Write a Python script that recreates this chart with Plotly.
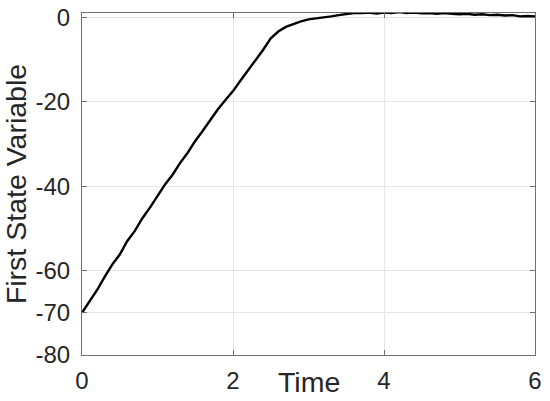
import plotly.graph_objects as go

# Data
time = [0.0, 0.1, 0.2, 0.3, 0.4, 0.5, 0.6, 0.7, 0.8, 0.9,
        1.0, 1.1, 1.2, 1.3, 1.4, 1.5, 1.6, 1.7, 1.8, 1.9,
        2.0, 2.1, 2.2, 2.3, 2.4, 2.5, 2.6, 2.7, 2.8, 2.9,
        3.0, 3.1, 3.2, 3.3, 3.4, 3.5, 3.6, 3.7, 3.8, 3.9,
        4.0, 4.1, 4.2, 4.3, 4.4, 4.5, 4.6, 4.7, 4.8, 4.9,
        5.0, 5.1, 5.2, 5.3, 5.4, 5.5, 5.6, 5.7, 5.8, 5.9, 6.0]
state1 = [-70.0, -67.3, -64.6, -61.5, -58.6, -56.2, -53.0, -50.6, -47.6, -45.1,
          -42.3, -39.6, -37.3, -34.5, -32.1, -29.3, -26.9, -24.2, -21.8, -19.6,
          -17.5, -15.0, -12.6, -10.2, -7.7, -5.0, -3.4, -2.3, -1.6, -1.0,
          -0.5, -0.3, 0.0, 0.2, 0.5, 0.8, 1.0, 1.0, 1.1, 0.9,
          1.1, 1.0, 1.2, 1.0, 1.1, 0.9, 1.0, 0.8, 1.0, 0.8,
          0.7, 0.8, 0.6, 0.7, 0.5, 0.6, 0.4, 0.5, 0.2, 0.3, 0.2]

x_ticks = [0, 2, 4, 6]
y_ticks = [-80, -70, -60, -40, -20, 0]
x_labels = ['0', '2', '4', '6']
y_labels = ['-80', '-70', '-60', '-40', '-20', '0']

FONT = 'Liberation Sans, Arial, sans-serif'
TXT = '#262626'
AX = '#707070'

fig = go.Figure()
fig.add_trace(go.Scatter(x=time, y=state1, mode='lines',
                         line=dict(color='black', width=2.4),
                         showlegend=False))

axis_style = dict(showline=True, linecolor=AX, linewidth=1, mirror='ticks',
                  ticks='inside', ticklen=5, tickcolor=AX, automargin=False,
                  ticklabeloverflow='allow',
                  showgrid=True, gridcolor='#e5e5e5', gridwidth=1,
                  zeroline=False, tickfont=dict(size=24, color=TXT, family=FONT))

fig.update_xaxes(range=[0, 6], tickvals=x_ticks, ticktext=x_labels,
                 ticklabelstandoff=4, **axis_style)
fig.update_yaxes(range=[-80, 1], tickvals=y_ticks, ticktext=y_labels,
                 ticklabelstandoff=6,
                 title=dict(text='First State Variable', standoff=9,
                            font=dict(size=28.5, color=TXT, family=FONT)),
                 **axis_style)

fig.add_annotation(text='Time', x=3, y=0, xref='x', yref='paper',
                   xanchor='center', yanchor='middle', yshift=-27, showarrow=False,
                   font=dict(size=28.5, color=TXT, family=FONT))

fig.update_layout(width=550, height=401,
                  margin=dict(l=82, r=15, t=13, b=46),
                  plot_bgcolor='white', paper_bgcolor='white',
                  font=dict(family=FONT, color=TXT))

# drop the default 8px body margin so the figure sits at the window corner
fig.write_html("out.html", config={'displayModeBar': False},
               post_script="document.body.style.margin='0';")
